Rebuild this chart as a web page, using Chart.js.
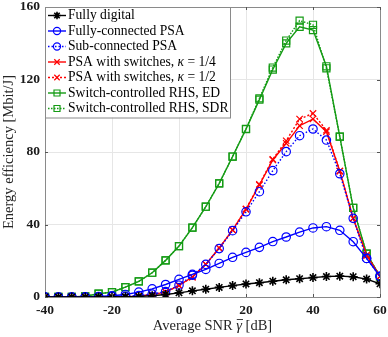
<!DOCTYPE html>
<html>
<head>
<meta charset="utf-8">
<script src="https://cdn.jsdelivr.net/npm/chart.js@4.4.1/dist/chart.umd.min.js"></script>
<style>
  html, body { margin: 0; padding: 0; background: #fff; }
  #wrap { width: 388px; height: 337px; }
</style>
</head>
<body>
<div id="wrap"><canvas id="eeChart"></canvas></div>
<script>
// SNR points [dB]
const snr = [-40, -36, -32, -28, -24, -20, -16, -12, -8, -4, 0, 4, 8, 12, 16, 20, 24, 28, 32, 36, 40, 44, 48, 52, 56, 60];

// energy efficiency [Mbit/J]
const fullyDigital = [0, 0, 0, 0, 0, 0.05, 0.1, 0.3, 0.7, 1.4, 2.3, 3.4, 4.3, 5.3, 6.3, 7.2, 7.9, 8.7, 9.5, 10.1, 10.7, 11.3, 11.5, 11.2, 9.9, 7.3];
const fullyConnected = [0, 0, 0, 0.1, 0.3, 0.7, 1.4, 2.7, 4.5, 6.9, 9.7, 12.5, 15.2, 18.5, 21.9, 24.6, 27.4, 30.6, 33.1, 35.8, 38.1, 38.8, 36.8, 30.5, 21.3, 11.4];
const subConnected = [0, 0, 0, 0, 0.1, 0.2, 0.4, 0.8, 1.6, 3.0, 6.5, 12.0, 18.0, 26.7, 36.6, 47.0, 58.1, 69.7, 80.2, 89.0, 92.7, 86.6, 68.0, 43.4, 21.3, 11.4];
const switchesQuarter = [0, 0, 0, 0, 0, 0.1, 0.2, 0.5, 1.3, 2.7, 6.4, 11.0, 18.0, 27.0, 37.0, 48.4, 61.8, 75.6, 84.8, 94.5, 98.2, 91.2, 69.5, 43.4, 23.0, 11.4];
const switchesHalf = [0, 0, 0, 0, 0, 0.1, 0.2, 0.5, 1.3, 2.7, 6.2, 11.0, 18.0, 27.0, 37.0, 48.6, 62.2, 76.0, 86.2, 98.2, 101.3, 92.0, 69.5, 43.4, 23.0, 11.4];
const rhsED = [0, 0, 0, 0.4, 1.8, 2.7, 5.4, 8.6, 13.4, 20.2, 28.1, 38.3, 49.8, 62.7, 77.5, 92.6, 108.9, 125.5, 139.9, 149.1, 147.3, 127.3, 88.5, 49.2, 23.9, 11.4];
const rhsSDR = [0, 0, 0, 0.4, 1.8, 2.7, 5.4, 8.6, 13.4, 20.2, 28.1, 38.3, 49.8, 62.7, 77.5, 92.8, 109.6, 126.6, 141.5, 152.5, 150.2, 126.2, 88.5, 49.2, 23.9, 11.4];

const seriesLabels = [
    'Fully digital',
    'Fully-connected PSA',
    'Sub-connected PSA',
    'PSA with switches, κ = 1/4',
    'PSA with switches, κ = 1/2',
    'Switch-controlled RHS, ED',
    'Switch-controlled RHS, SDR'
];

const xTicks = [-40, -20, 0, 20, 40, 60];
const yTicks = [0, 40, 80, 120, 160];

const GREEN = 'rgb(20,155,20)';
const serif = "'Liberation Serif', 'DejaVu Serif', serif";

function makeSet(label, values, color, style, dash, radius) {
    return {
        label: label,
        data: snr.map((x, i) => ({ x: x, y: values[i] })),
        borderColor: color,
        backgroundColor: 'rgba(0,0,0,0)',
        pointBorderColor: color,
        pointBackgroundColor: 'rgba(0,0,0,0)',
        borderWidth: 1.4,
        pointBorderWidth: 1.2,
        pointStyle: style,
        pointRadius: radius,
        borderDash: dash,
        tension: 0
    };
}

const datasets = [
    makeSet(seriesLabels[0], fullyDigital, '#000000', 'star', [], 4.5),
    makeSet(seriesLabels[1], fullyConnected, '#0000ff', 'circle', [], 4.2),
    makeSet(seriesLabels[2], subConnected, '#0000ff', 'circle', [1.5, 2], 4.2),
    makeSet(seriesLabels[3], switchesQuarter, '#ff0000', 'crossRot', [], 4.5),
    makeSet(seriesLabels[4], switchesHalf, '#ff0000', 'crossRot', [2, 2], 4.5),
    makeSet(seriesLabels[5], rhsED, GREEN, 'rect', [], 5),
    makeSet(seriesLabels[6], rhsSDR, GREEN, 'rect', [1.5, 1.5], 5)
];
datasets[0].pointBorderWidth = 1.6;

// top/right frame and inward ticks, like a boxed axes
const framePlugin = {
    id: 'frame',
    afterDatasetsDraw(chart) {
        const ctx = chart.ctx;
        const a = chart.chartArea;
        const xs = chart.scales.x, ys = chart.scales.y;
        ctx.save();
        ctx.strokeStyle = '#8a8a8a';
        ctx.lineWidth = 1;
        ctx.beginPath();
        ctx.moveTo(a.left, a.top + 0.5);
        ctx.lineTo(a.right + 0.5, a.top + 0.5);
        ctx.lineTo(a.right + 0.5, a.bottom);
        ctx.stroke();
        ctx.strokeStyle = '#555';
        ctx.beginPath();
        xTicks.forEach(v => {
            const px = Math.round(xs.getPixelForValue(v)) + 0.5;
            ctx.moveTo(px, a.bottom); ctx.lineTo(px, a.bottom - 3);
            ctx.moveTo(px, a.top); ctx.lineTo(px, a.top + 3);
        });
        yTicks.forEach(v => {
            const py = Math.round(ys.getPixelForValue(v)) + 0.5;
            ctx.moveTo(a.left, py); ctx.lineTo(a.left + 3, py);
            ctx.moveTo(a.right, py); ctx.lineTo(a.right - 3, py);
        });
        ctx.stroke();

        // x axis title with barred italic gamma
        ctx.fillStyle = '#262626';
        ctx.textBaseline = 'middle';
        const pieces = [['Average SNR ', false], ['γ', true], [' [dB]', false]];
        let total = 0;
        pieces.forEach(p => {
            ctx.font = (p[1] ? 'italic ' : '') + '14.5px ' + serif;
            total += ctx.measureText(p[0]).width;
        });
        let tx = (a.left + a.right) / 2 - total / 2;
        const ty = 326;
        pieces.forEach(p => {
            ctx.font = (p[1] ? 'italic ' : '') + '14.5px ' + serif;
            ctx.fillText(p[0], tx, ty);
            const wdt = ctx.measureText(p[0]).width;
            if (p[1]) {
                ctx.strokeStyle = '#262626';
                ctx.lineWidth = 0.9;
                ctx.beginPath();
                ctx.moveTo(tx + 0.5, ty - 6.5);
                ctx.lineTo(tx + wdt + 1, ty - 6.5);
                ctx.stroke();
            }
            tx += wdt;
        });
        ctx.restore();
    }
};

// legend drawn as line sample + marker, MATLAB style
const legendPlugin = {
    id: 'lineLegend',
    afterDraw(chart) {
        const ctx = chart.ctx;
        const a = chart.chartArea;
        const x0 = a.left, y0 = 7, w = 185, rowH = 15.5;
        const h = rowH * datasets.length + 2;
        ctx.save();
        ctx.fillStyle = '#fff';
        ctx.fillRect(x0, y0, w, h);
        ctx.strokeStyle = '#8a8a8a';
        ctx.lineWidth = 1;
        ctx.strokeRect(x0 + 0.5, y0 + 0.5, w, h);
        ctx.textBaseline = 'middle';
        chart.data.datasets.forEach((ds, i) => {
            const cy = y0 + 8.5 + i * rowH;
            ctx.strokeStyle = ds.borderColor;
            ctx.lineWidth = ds.borderWidth;
            ctx.setLineDash(ds.borderDash);
            ctx.beginPath();
            ctx.moveTo(x0 + 3, cy);
            ctx.lineTo(x0 + 21, cy);
            ctx.stroke();
            ctx.setLineDash([]);
            ctx.lineWidth = ds.pointBorderWidth;
            ctx.fillStyle = 'rgba(0,0,0,0)';
            Chart.helpers.drawPoint(ctx, {
                pointStyle: ds.pointStyle,
                radius: ds.pointRadius * 0.85,
                rotation: 0,
                borderWidth: ds.pointBorderWidth
            }, x0 + 12, cy);
            // label, with kappa in italics
            ctx.fillStyle = '#000';
            let tx = x0 + 23;
            const parts = ds.label.split('κ');
            parts.forEach((p, j) => {
                ctx.font = '13.6px ' + serif;
                ctx.fillText(p, tx, cy);
                tx += ctx.measureText(p).width;
                if (j < parts.length - 1) {
                    ctx.font = 'italic 13.6px ' + serif;
                    ctx.fillText('κ', tx, cy);
                    tx += ctx.measureText('κ').width;
                }
            });
        });
        ctx.restore();
    }
};

const ctx = document.getElementById('eeChart').getContext('2d');
const chart = new Chart(ctx, {
    type: 'line',
    data: { datasets: datasets },
    options: {
        responsive: true,
        maintainAspectRatio: false,
        animation: false,
        layout: { padding: { top: 7, right: 8, left: 0, bottom: 0 } },
        plugins: {
            legend: { display: false },
            tooltip: { enabled: false }
        },
        scales: {
            x: {
                type: 'linear',
                min: -40,
                max: 60,
                afterBuildTicks: s => { s.ticks = xTicks.map(v => ({ value: v })); },
                afterFit: s => { s.height = 40; s.paddingLeft = 0; s.paddingRight = 0; },
                ticks: {
                    padding: 5,
                    color: '#1a1a1a',
                    font: { family: serif, size: 13.5, weight: 'bold' }
                },
                grid: { color: '#e6e6e6', drawTicks: false },
                border: { color: '#8a8a8a' },
                title: { display: false }
            },
            y: {
                min: 0,
                max: 160,
                afterBuildTicks: s => { s.ticks = yTicks.map(v => ({ value: v })); },
                afterFit: s => { s.width = 45; s.paddingTop = 0; s.paddingBottom = 0; },
                ticks: {
                    padding: 5,
                    color: '#1a1a1a',
                    font: { family: serif, size: 13.5, weight: 'bold' }
                },
                grid: { color: '#e6e6e6', drawTicks: false },
                border: { color: '#8a8a8a' },
                title: {
                    display: true,
                    text: 'Energy efficiency [Mbit/J]',
                    color: '#262626',
                    padding: { top: 0, bottom: 0 },
                    font: { family: serif, size: 14.5 }
                }
            }
        }
    },
    plugins: [framePlugin, legendPlugin]
});
</script>
</body>
</html>
